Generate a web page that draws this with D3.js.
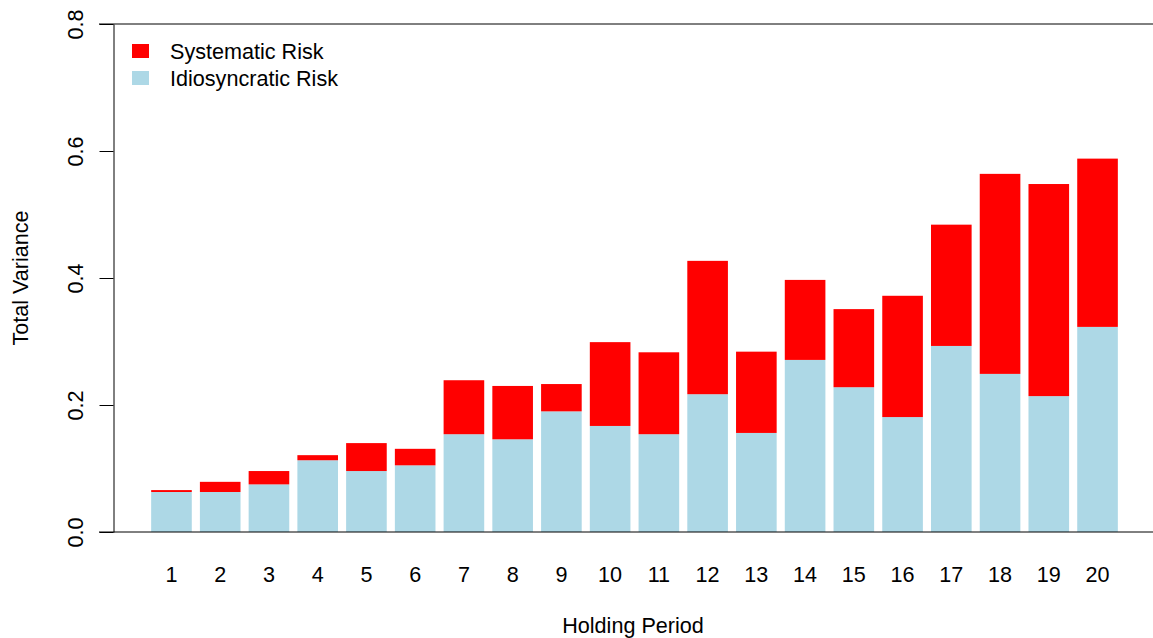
<!DOCTYPE html>
<html>
<head>
<meta charset="utf-8">
<script src="https://cdn.jsdelivr.net/npm/d3@7"></script>
<style>
  html, body { margin: 0; padding: 0; background: #fff; }
  svg { display: block; font-family: "Liberation Sans", Arial, Helvetica, sans-serif; }
</style>
</head>
<body>
<svg id="chart" width="1153" height="638"></svg>
<script>
// Holding periods 1..20
const periods = d3.range(1, 21).map(String);

// Idiosyncratic (bottom) and systematic (top) components of total variance
const idiosyncratic = [0.063, 0.063, 0.075, 0.113, 0.096, 0.105, 0.154, 0.146, 0.190, 0.167,
                       0.154, 0.217, 0.156, 0.271, 0.228, 0.181, 0.293, 0.249, 0.214, 0.323];
const systematic    = [0.003, 0.016, 0.021, 0.008, 0.044, 0.026, 0.085, 0.084, 0.043, 0.132,
                       0.129, 0.210, 0.128, 0.126, 0.123, 0.191, 0.191, 0.315, 0.334, 0.265];

const yTicks = [0, 0.2, 0.4, 0.6, 0.8];
const legendLabels = ["Systematic Risk", "Idiosyncratic Risk"];
const colors = { idio: "#add8e6", sys: "#ff0000" };
const fontSize = 21.6;

const svg = d3.select("#chart");

const x = d3.scaleBand()
  .domain(periods)
  .range([147.1, 1121.9])
  .paddingInner(0.2 / 1.2)
  .paddingOuter(0.1 / 1.2);

const y = d3.scaleLinear().domain([0, 0.8]).range([532, 24]);

const rows = periods.map((p, i) => ({ period: p, idio: idiosyncratic[i], sys: systematic[i] }));
const stacked = d3.stack().keys(["idio", "sys"])(rows);

// stacked bars
svg.append("g").selectAll("g")
  .data(stacked)
  .join("g")
  .attr("fill", d => colors[d.key])
  .selectAll("rect")
  .data(d => d)
  .join("rect")
  .attr("x", d => x(d.data.period))
  .attr("width", x.bandwidth())
  .attr("y", d => y(d[1]))
  .attr("height", d => y(d[0]) - y(d[1]));

// horizontal reference lines at the bottom and top of the value range
svg.append("g").selectAll("line")
  .data([0, 0.8])
  .join("line")
  .attr("x1", 99).attr("x2", 1153)
  .attr("y1", d => y(d)).attr("y2", d => y(d))
  .attr("stroke", "#000").attr("stroke-width", 1);

// y axis
const yAxis = svg.append("g")
  .attr("transform", "translate(113.5,0)")
  .call(d3.axisLeft(y).tickValues(yTicks).tickSize(14).tickSizeOuter(0).tickFormat(d3.format(".1f")));
yAxis.select(".domain").attr("stroke", "#000");
yAxis.selectAll(".tick line").attr("stroke", "#000");
yAxis.selectAll(".tick text")
  .attr("x", null).attr("dy", null)
  .attr("transform", "translate(-31,0) rotate(-90)")
  .attr("text-anchor", "middle")
  .attr("font-size", fontSize)
  .attr("font-family", "Liberation Sans, Arial, sans-serif")
  .attr("fill", "#000");

// x category labels
svg.append("g").selectAll("text")
  .data(periods)
  .join("text")
  .attr("x", d => x(d) + x.bandwidth() / 2)
  .attr("y", 582)
  .attr("text-anchor", "middle")
  .attr("font-size", fontSize)
  .text(d => d);

// axis titles
svg.append("text")
  .attr("x", 633).attr("y", 633)
  .attr("text-anchor", "middle")
  .attr("font-size", fontSize)
  .text("Holding Period");

svg.append("text")
  .attr("transform", "translate(28,278) rotate(-90)")
  .attr("text-anchor", "middle")
  .attr("font-size", fontSize)
  .text("Total Variance");

// legend
const legend = svg.append("g").selectAll("g")
  .data(legendLabels)
  .join("g")
  .attr("transform", (d, i) => `translate(132,${44 + i * 27})`);
legend.append("rect")
  .attr("width", 17).attr("height", 14)
  .attr("fill", (d, i) => i === 0 ? colors.sys : colors.idio);
legend.append("text")
  .attr("x", 38).attr("y", 15)
  .attr("font-size", fontSize)
  .text(d => d);
</script>
</body>
</html>
